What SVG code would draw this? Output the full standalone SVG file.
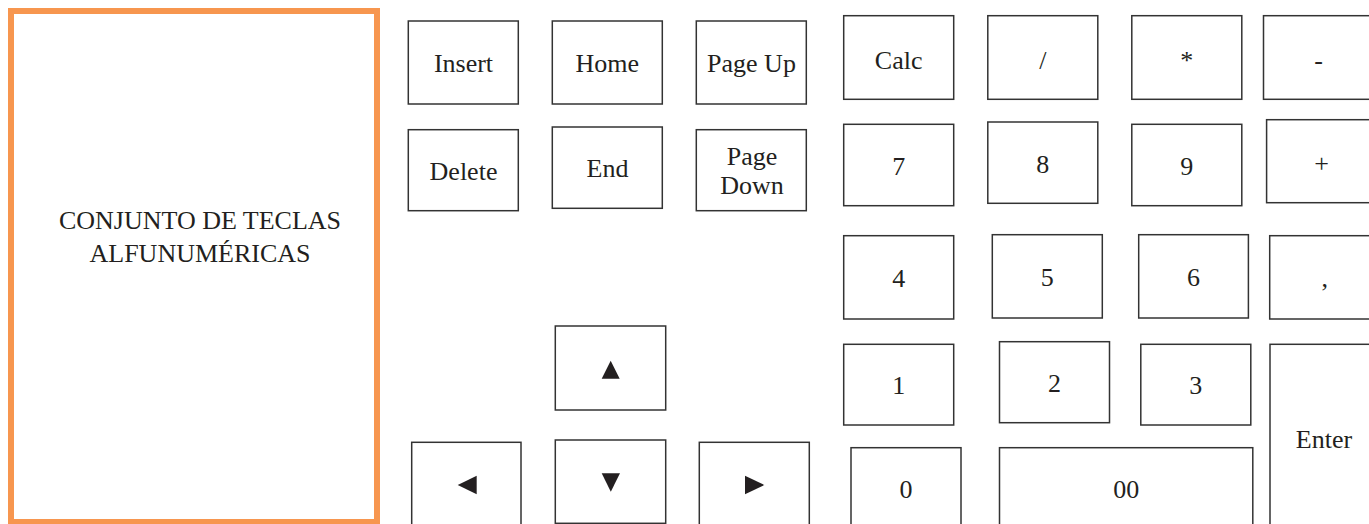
<svg xmlns="http://www.w3.org/2000/svg" width="1369" height="524" viewBox="0 0 1369 524">
<style>
.k{fill:#fff;stroke:#333;stroke-width:1.5}
.t{font-family:"Liberation Serif","Times New Roman",serif;font-size:26px;fill:#231f20;text-anchor:middle}
.a{fill:#231f20}
</style>
<rect x="0" y="0" width="1369" height="524" fill="#fff"/>
<g id="alfa">
<rect x="11" y="11" width="366" height="511" fill="#fff" stroke="#F7964F" stroke-width="6"/>
<text class="t" x="200" y="229">CONJUNTO DE TECLAS</text>
<text class="t" x="200" y="262">ALFUNUMÉRICAS</text>
</g>
<g id="insert"><rect class="k" x="408.3" y="21" width="110" height="83"/><text class="t" x="463.5" y="72.3">Insert</text></g>
<g id="home"><rect class="k" x="552.3" y="21" width="110" height="83"/><text class="t" x="607.3" y="72.3">Home</text></g>
<g id="pageup"><rect class="k" x="696.3" y="21" width="110" height="83"/><text class="t" x="751.5" y="72.3">Page Up</text></g>
<g id="delete"><rect class="k" x="408.3" y="129.7" width="110" height="81"/><text class="t" x="463.5" y="180">Delete</text></g>
<g id="end"><rect class="k" x="552.3" y="127" width="110" height="81.3"/><text class="t" x="607.5" y="177.3">End</text></g>
<g id="pagedown"><rect class="k" x="696.3" y="129.7" width="110" height="81"/><text class="t" x="752" y="165">Page</text><text class="t" x="752" y="194">Down</text></g>
<g id="up"><rect class="k" x="555.3" y="326" width="110.4" height="84"/><polygon class="a" points="610.7,360.7 601.7,378.7 619.7,378.7"/></g>
<g id="left"><rect class="k" x="411.7" y="442.3" width="109.3" height="90"/><polygon class="a" points="457.7,485 476.7,475.7 476.7,494.3"/></g>
<g id="down"><rect class="k" x="555.3" y="440" width="110.4" height="83.3"/><polygon class="a" points="601.7,473.3 620,473.3 610.8,491.7"/></g>
<g id="right"><rect class="k" x="699.3" y="442.3" width="110" height="90"/><polygon class="a" points="745,475.7 764.3,485 745,494.3"/></g>
<g id="calc"><rect class="k" x="843.7" y="15.7" width="110" height="83.6"/><text class="t" x="898.7" y="68.5">Calc</text></g>
<g id="div"><rect class="k" x="987.8" y="15.7" width="110" height="83.6"/><text class="t" x="1042.8" y="68.5">/</text></g>
<g id="mul"><rect class="k" x="1131.8" y="15.7" width="110" height="83.6"/><text class="t" x="1186.8" y="68.5">*</text></g>
<g id="minus"><rect class="k" x="1263.5" y="15.7" width="110" height="83.6"/><text class="t" x="1318.5" y="68.5">-</text></g>
<g id="k7"><rect class="k" x="843.7" y="124.3" width="110" height="81.4"/><text class="t" x="898.7" y="175">7</text></g>
<g id="k8"><rect class="k" x="987.8" y="122" width="110" height="81.3"/><text class="t" x="1042.8" y="172.7">8</text></g>
<g id="k9"><rect class="k" x="1131.8" y="124.3" width="110" height="81.4"/><text class="t" x="1186.8" y="175">9</text></g>
<g id="plus"><rect class="k" x="1266.6" y="119.7" width="110" height="83"/><text class="t" x="1321.6" y="171.5">+</text></g>
<g id="k4"><rect class="k" x="843.7" y="235.7" width="110" height="83.3"/><text class="t" x="898.7" y="286.7">4</text></g>
<g id="k5"><rect class="k" x="992.3" y="234.7" width="110" height="83.3"/><text class="t" x="1047.3" y="285.7">5</text></g>
<g id="k6"><rect class="k" x="1138.7" y="234.7" width="109.7" height="83.3"/><text class="t" x="1193.5" y="285.7">6</text></g>
<g id="comma"><rect class="k" x="1269.7" y="235.7" width="110" height="83.3"/><text class="t" x="1324.7" y="286.7">,</text></g>
<g id="k1"><rect class="k" x="843.7" y="344.3" width="110" height="80.7"/><text class="t" x="898.7" y="394.3">1</text></g>
<g id="k2"><rect class="k" x="999.5" y="341.7" width="110" height="81"/><text class="t" x="1054.5" y="391.7">2</text></g>
<g id="k3"><rect class="k" x="1140.8" y="344.3" width="110" height="80.7"/><text class="t" x="1195.8" y="394.3">3</text></g>
<g id="enter"><rect class="k" x="1270" y="344.3" width="110" height="200"/><text class="t" x="1324" y="447.7">Enter</text></g>
<g id="k0"><rect class="k" x="851" y="447.7" width="110" height="90"/><text class="t" x="906" y="498.3">0</text></g>
<g id="k00"><rect class="k" x="999.5" y="447.7" width="253.3" height="90"/><text class="t" x="1126.2" y="498.3">00</text></g>
<g id="connectors"></g>
</svg>
